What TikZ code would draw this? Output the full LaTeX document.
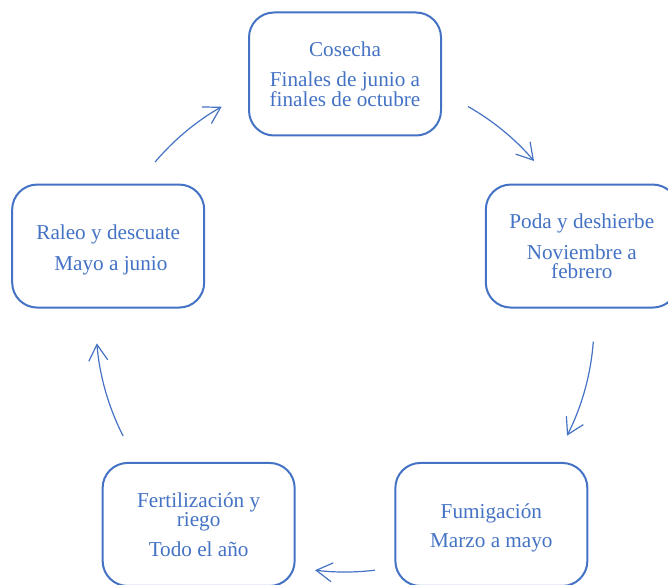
\documentclass[tikz,border=0pt]{standalone}
\usepackage{fontspec}
\setmainfont{Liberation Serif}
\usetikzlibrary{arrows.meta,calc}
\definecolor{acc}{HTML}{4472C4}
\begin{document}
\begin{tikzpicture}[x=1pt,y=-1pt,
  stage/.style={draw=acc, line width=2pt, rounded corners=25pt,
    minimum width=192pt, minimum height=123pt, inner sep=0pt,
    text=acc, align=center, font=\fontsize{21.2}{19}\selectfont},
  cyc/.style={draw=acc, line width=1.2pt,
    -{Straight Barb[length=16pt,width=19pt,line width=1.2pt]}}]
\useasboundingbox (0,0) rectangle (668,585);
\coordinate (c) at (345,323);
\node[stage] (cosecha) at ($(c)+(-90:249)$) {Cosecha\\[11pt]Finales de junio a\\finales de octubre};
\node[stage] (poda) at ($(c)+(-18:249)$) {Poda y deshierbe\\[11pt]Noviembre a\\febrero};
\node[stage, text height=46pt, text depth=0pt] (fumi) at ($(c)+(54:249)$) {Fumigación\\[10pt]Marzo a mayo};
\node[stage] (ferti) at ($(c)+(126:249)$) {Fertilización y\\riego\\[10pt]Todo el año};
\node[stage, text height=48pt, text depth=0pt] (raleo) at ($(c)+(198:249)$) {Raleo y descuate\\[12pt]\ Mayo a junio};
\coordinate (a1) at ($(c)+(-60.4:249)$);
\coordinate (a2) at ($(c)+(4.3:249)$);
\coordinate (a3) at ($(c)+(83.1:249)$);
\coordinate (a4) at ($(c)+(153.0:249)$);
\coordinate (a5) at ($(c)+(220.3:249)$);
\draw[cyc] (a1) arc[start angle=-60.4, end angle=-40.6, radius=249];
\draw[cyc] (a2) arc[start angle=4.3, end angle=26.9, radius=249];
\draw[cyc] (a3) arc[start angle=83.1, end angle=96.9, radius=249];
\draw[cyc] (a4) arc[start angle=153.0, end angle=175.3, radius=249];
\draw[cyc] (a5) arc[start angle=220.3, end angle=240.3, radius=249];
\end{tikzpicture}
\end{document}
